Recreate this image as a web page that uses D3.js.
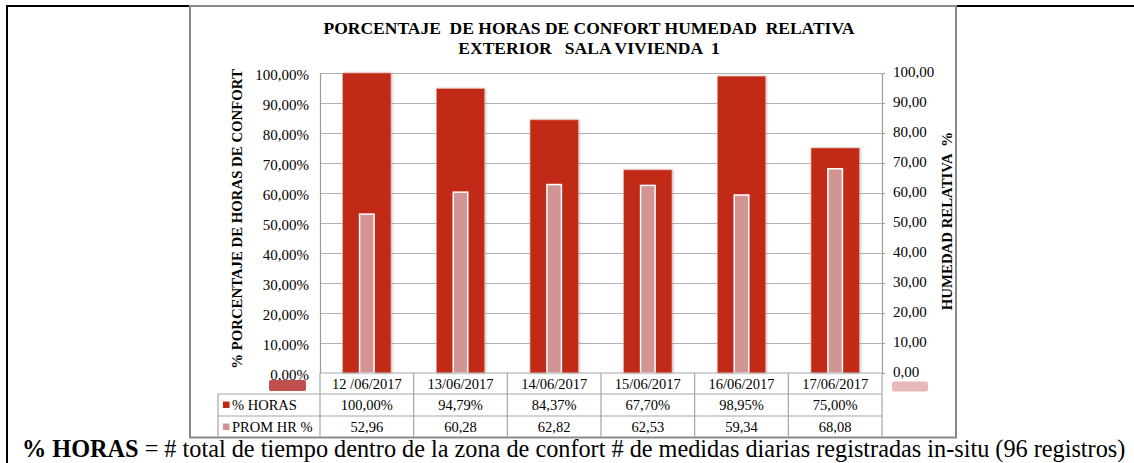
<!DOCTYPE html>
<html lang="es">
<head>
<meta charset="utf-8">
<script src="https://cdn.jsdelivr.net/npm/d3@7"></script>
<style>
  html, body { margin: 0; padding: 0; background: #fff; }
  svg { display: block; }
  text { font-family: 'Liberation Serif', 'Times New Roman', serif; fill: #000; }
</style>
</head>
<body>
<svg id="chart" width="1134" height="463"></svg>
<script>
// Fechas de medición y series diarias
const fechas = ["12 /06/2017", "13/06/2017", "14/06/2017", "15/06/2017", "16/06/2017", "17/06/2017"];
const horasConfort = [100.00, 94.79, 84.37, 67.70, 98.95, 75.00];   // % de horas en confort
const promHR = [52.96, 60.28, 62.82, 62.53, 59.34, 68.08];          // humedad relativa media %
const ticksIzq = [0, 10, 20, 30, 40, 50, 60, 70, 80, 90, 100];
const ticksDer = [0, 10, 20, 30, 40, 50, 60, 70, 80, 90, 100];
const serieHoras = "% HORAS";
const serieHR = "PROM HR %";

const colorHoras = "#c02a13";
const colorHR = "#d39494";
const colorLeyHoras = "#c0504d";
const colorLeyHR = "#e6b8b7";

const fmtPct = v => v.toFixed(2).replace(".", ",") + "%";
const fmtNum = v => v.toFixed(2).replace(".", ",");

const svg = d3.select("#chart");

// Marco exterior de la celda
svg.append("line").attr("x1", 6).attr("x2", 1134).attr("y1", 6).attr("y2", 6)
  .attr("stroke", "#000").attr("stroke-width", 2);
svg.append("line").attr("x1", 7).attr("x2", 7).attr("y1", 5).attr("y2", 463)
  .attr("stroke", "#000").attr("stroke-width", 2);

// Marco del gráfico
svg.append("rect").attr("x", 190).attr("y", 6).attr("width", 766).attr("height", 431.5)
  .attr("fill", "none").attr("stroke", "#8a8a8a").attr("stroke-width", 2);

// Escalas
const x = d3.scaleBand().domain(fechas).range([320, 882]).padding(0);
const y = d3.scaleLinear().domain([0, 100]).range([373, 73]);
const y2 = d3.scaleLinear().domain([0, 100]).range([373, 73]);
const bw = x.bandwidth();

// Sombra suave de las barras
const defs = svg.append("defs");
const f = defs.append("filter").attr("id", "sombra").attr("x", "-20%").attr("y", "-5%")
  .attr("width", "140%").attr("height", "110%");
f.append("feDropShadow").attr("dx", 1).attr("dy", 0).attr("stdDeviation", 1.3)
  .attr("flood-color", "#777").attr("flood-opacity", 0.45);

// Líneas de cuadrícula
svg.append("g").selectAll("line").data(ticksIzq.filter(t => t > 0)).join("line")
  .attr("x1", 320).attr("x2", 885)
  .attr("y1", d => Math.round(y(d)) + 0.5).attr("y2", d => Math.round(y(d)) + 0.5)
  .attr("stroke", "#b3b3b3").attr("stroke-width", 1.2);

// Eje izquierdo
const ejeIzq = svg.append("g").attr("transform", "translate(320,0)")
  .call(d3.axisLeft(y).tickValues(ticksIzq).tickSize(0).tickPadding(11).tickFormat(fmtPct));
ejeIzq.select(".domain").attr("stroke", "#9a9a9a").attr("stroke-width", 1.2);
ejeIzq.selectAll("text").attr("font-size", 15).attr("dy", "0.45em");

// Eje derecho
const ejeDer = svg.append("g").attr("transform", "translate(882,0)")
  .call(d3.axisRight(y2).tickValues(ticksDer).tickSize(3).tickPadding(8).tickFormat(fmtNum));
ejeDer.select(".domain").attr("stroke", "#9a9a9a").attr("stroke-width", 1.2);
ejeDer.selectAll(".tick line").attr("stroke", "#9a9a9a");
ejeDer.selectAll("text").attr("font-size", 15).attr("dy", "0.2em");

// Barras de % horas
const anchoHoras = bw * 0.515;
svg.append("g").selectAll("rect").data(horasConfort).join("rect")
  .attr("x", (d, i) => x(fechas[i]) + (bw - anchoHoras) / 2)
  .attr("y", d => y(d))
  .attr("width", anchoHoras)
  .attr("height", d => y(0) - y(d))
  .attr("fill", colorHoras)
  .attr("stroke", "#e8a89c").attr("stroke-width", 0.6)
  .attr("filter", "url(#sombra)");

// Barras de humedad relativa media
const anchoHR = bw * 0.155;
svg.append("g").selectAll("rect").data(promHR).join("rect")
  .attr("x", (d, i) => x(fechas[i]) + (bw - anchoHR) / 2)
  .attr("y", d => y2(d))
  .attr("width", anchoHR)
  .attr("height", d => y2(0) - y2(d))
  .attr("fill", colorHR)
  .attr("stroke", "#fff").attr("stroke-width", 1.5);

// Tabla de datos
const filas = [373, 394, 416, 437];
const tabla = svg.append("g").attr("stroke", "#a6a6a6").attr("stroke-width", 1.2);
tabla.append("line").attr("x1", 320).attr("x2", 882).attr("y1", filas[0]).attr("y2", filas[0]);
tabla.append("line").attr("x1", 218).attr("x2", 882).attr("y1", filas[1]).attr("y2", filas[1]);
tabla.append("line").attr("x1", 218).attr("x2", 882).attr("y1", filas[2]).attr("y2", filas[2]);
tabla.append("line").attr("x1", 218).attr("x2", 218).attr("y1", filas[1]).attr("y2", filas[3]);
tabla.selectAll(".div").data(fechas.concat(["__fin"])).join("line")
  .attr("x1", (d, i) => i < fechas.length ? x(d) : 882)
  .attr("x2", (d, i) => i < fechas.length ? x(d) : 882)
  .attr("y1", filas[0]).attr("y2", filas[3]);

const celdas = svg.append("g").attr("font-size", 14.5).attr("text-anchor", "middle");
celdas.selectAll(".f").data(fechas).join("text")
  .attr("x", d => x(d) + bw / 2).attr("y", 388.5).text(d => d);
celdas.selectAll(".h").data(horasConfort).join("text")
  .attr("x", (d, i) => x(fechas[i]) + bw / 2).attr("y", 410).text(d => fmtPct(d));
celdas.selectAll(".r").data(promHR).join("text")
  .attr("x", (d, i) => x(fechas[i]) + bw / 2).attr("y", 431.5).text(d => fmtNum(d));

// Claves de leyenda en la tabla
svg.append("rect").attr("x", 223).attr("y", 401.5).attr("width", 6.5).attr("height", 6.5).attr("fill", colorHoras);
svg.append("text").attr("x", 232).attr("y", 410).attr("font-size", 14.5).text(serieHoras);
svg.append("rect").attr("x", 223).attr("y", 423.5).attr("width", 6.5).attr("height", 6.5).attr("fill", colorHR);
svg.append("text").attr("x", 232).attr("y", 431.5).attr("font-size", 14.5).text(serieHR);

// Muestras de serie bajo los ejes
svg.append("rect").attr("x", 269).attr("y", 380).attr("width", 37).attr("height", 11).attr("rx", 2)
  .attr("fill", colorLeyHoras);
svg.append("rect").attr("x", 892).attr("y", 381.5).attr("width", 36).attr("height", 10).attr("rx", 2)
  .attr("fill", colorLeyHR);

// Título
const titulo = svg.append("text").attr("x", 589).attr("text-anchor", "middle")
  .attr("font-size", 17.5).attr("font-weight", "bold").style("white-space", "pre");
titulo.append("tspan").attr("x", 589).attr("y", 34).text("PORCENTAJE  DE HORAS DE CONFORT HUMEDAD  RELATIVA");
titulo.append("tspan").attr("x", 589).attr("y", 54).text("EXTERIOR   SALA VIVIENDA  1");

// Títulos de ejes
svg.append("text").attr("transform", "translate(242,219) rotate(-90)")
  .attr("text-anchor", "middle").attr("font-size", 14.8).attr("font-weight", "bold")
  .text("% PORCENTAJE DE HORAS DE CONFORT");
svg.append("text").attr("transform", "translate(952,221) rotate(-90)")
  .attr("text-anchor", "middle").attr("font-size", 14.8).attr("font-weight", "bold")
  .style("white-space", "pre")
  .text("HUMEDAD RELATIVA  %");

// Nota al pie
const nota = svg.append("text").attr("x", 22).attr("y", 457).attr("font-size", 24.25);
nota.append("tspan").attr("font-weight", "bold").text("% HORAS");
nota.append("tspan").text(" = # total de tiempo dentro de la zona de confort # de medidas diarias registradas in-situ (96 registros)");
</script>
</body>
</html>
